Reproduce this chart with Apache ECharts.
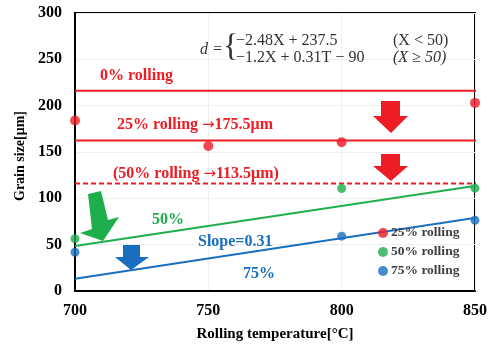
<!DOCTYPE html>
<html><head><meta charset="utf-8">
<script src="https://cdn.jsdelivr.net/npm/echarts@6/dist/echarts.min.js"></script>
<style>html,body{margin:0;padding:0;background:#fff}#c{width:490px;height:347px}</style>
</head><body><div id="c"></div>
<script>
// ---- data ----
const xTicks = [700, 750, 800, 850];
const yTicks = [0, 50, 100, 150, 200, 250, 300];
const temps25 = [700, 750, 800, 850];
const rolling25 = [184, 156.5, 160.5, 203];
const temps50 = [700, 800, 850];
const rolling50 = [56.4, 110.6, 111];
const temps75 = [700, 800, 850];
const rolling75 = [41.8, 59.2, 76.3];
const refX = [700, 853.5];
const level0 = [216, 216];
const level25 = [162.4, 162.4];
const level50 = [116, 116];
const fit50 = [48.6, 114.9];
const fit75 = [13.1, 80.3];
const seriesNames = ['25% rolling', '50% rolling', '75% rolling'];

const RED = '#ee1c25', GREEN = '#1fae4c', BLUE = '#1a6ec0';
const F = '"Liberation Serif", "Times New Roman", serif';
const zip = (a, b) => a.map((v, i) => [v, b[i]]);

function lineSeries(ys, color, type) {
  return { type: 'line', data: zip(refX, ys), symbol: 'none', clip: false, silent: true,
    lineStyle: { color: color, width: 2, type: type || 'solid' }, z: 3 };
}
const arrowRich = { a: { fontFamily: '"DejaVu Sans", sans-serif', fontSize: 15, fontWeight: 'normal', fill: RED, color: RED } };

const chart = echarts.init(document.getElementById('c'), null, { renderer: 'canvas' });
chart.setOption({
  animation: false,
  backgroundColor: '#fff',
  grid: { left: 75, right: 13, top: 13, bottom: 52, show: true, borderColor: '#000', borderWidth: 2 },
  xAxis: {
    type: 'value', min: xTicks[0], max: xTicks[xTicks.length - 1], interval: 50,
    axisLine: { lineStyle: { color: '#000', width: 2 } }, axisTick: { show: false },
    axisLabel: { color: '#000', fontFamily: F, fontWeight: 'bold', fontSize: 16, margin: 12 },
    splitLine: { lineStyle: { color: '#efefef', width: 1 } },
    name: 'Rolling temperature[°C]', nameLocation: 'middle', nameGap: 36,
    nameTextStyle: { color: '#000', fontFamily: F, fontWeight: 'bold', fontSize: 15 }
  },
  yAxis: {
    type: 'value', min: yTicks[0], max: yTicks[yTicks.length - 1], interval: 50,
    axisLine: { show: true, lineStyle: { color: '#000', width: 2 } }, axisTick: { show: false },
    axisLabel: { color: '#000', fontFamily: F, fontWeight: 'bold', fontSize: 16, margin: 13 },
    splitLine: { lineStyle: { color: '#efefef', width: 1 } },
    name: 'Grain size[μm]', nameLocation: 'middle', nameGap: 47,
    nameTextStyle: { color: '#000', fontFamily: F, fontWeight: 'bold', fontSize: 14, padding: [0, 8, 0, 0] }
  },
  legend: {
    data: seriesNames, orient: 'vertical', left: 373, top: 221, itemGap: 5,
    itemWidth: 10, itemHeight: 10, icon: 'circle',
    textStyle: { color: '#404040', fontFamily: F, fontWeight: 'bold', fontSize: 13.5, padding: [0, 0, 0, -2] }
  },
  series: [
    lineSeries(level0, RED), lineSeries(level25, RED), lineSeries(level50, RED, [5, 3]),
    lineSeries(fit50, GREEN), lineSeries(fit75, BLUE),
    { name: seriesNames[0], type: 'scatter', data: zip(temps25, rolling25), symbolSize: 10,
      itemStyle: { color: RED }, clip: false, z: 5 },
    { name: seriesNames[1], type: 'scatter', data: zip(temps50, rolling50), symbolSize: 9,
      itemStyle: { color: GREEN }, clip: false, z: 5 },
    { name: seriesNames[2], type: 'scatter', data: zip(temps75, rolling75), symbolSize: 9,
      itemStyle: { color: BLUE }, clip: false, z: 5 }
  ],
  graphic: [
    // formula
    { type: 'text', z: 10, style: { x: 200, y: 50, text: 'd =', font: 'italic 16px ' + F, fill: '#333', verticalAlign: 'middle' } },
    { type: 'text', z: 10, style: { x: 223, y: 48, text: '{', font: '32px ' + F, fill: '#333', verticalAlign: 'middle' } },
    { type: 'text', z: 10, style: { x: 236, y: 41, text: '−2.48X + 237.5', font: '16px ' + F, fill: '#333', verticalAlign: 'middle' } },
    { type: 'text', z: 10, style: { x: 236, y: 58, text: '−1.2X + 0.31T − 90', font: '16px ' + F, fill: '#333', verticalAlign: 'middle' } },
    { type: 'text', z: 10, style: { x: 393, y: 41, text: '(X < 50)', font: '16px ' + F, fill: '#333', verticalAlign: 'middle' } },
    { type: 'text', z: 10, style: { x: 393, y: 58, text: '(X ≥ 50)', font: 'italic 16px ' + F, fill: '#333', verticalAlign: 'middle' } },
    // labels
    { type: 'text', z: 10, style: { x: 100, y: 76, text: '0% rolling', font: 'bold 16px ' + F, fill: RED, verticalAlign: 'middle' } },
    { type: 'text', z: 10, style: { x: 117, y: 125, text: '25% rolling {a|→}175.5μm', font: 'bold 16px ' + F, fill: RED, verticalAlign: 'middle', rich: arrowRich } },
    { type: 'text', z: 10, style: { x: 113, y: 174, text: '(50% rolling {a|→}113.5μm)', font: 'bold 16px ' + F, fill: RED, verticalAlign: 'middle', rich: arrowRich } },
    { type: 'text', z: 10, style: { x: 152, y: 220, text: '50%', font: 'bold 16px ' + F, fill: GREEN, verticalAlign: 'middle' } },
    { type: 'text', z: 10, style: { x: 198, y: 242, text: 'Slope=0.31', font: 'bold 16px ' + F, fill: BLUE, verticalAlign: 'middle' } },
    { type: 'text', z: 10, style: { x: 243, y: 274, text: '75%', font: 'bold 16px ' + F, fill: BLUE, verticalAlign: 'middle' } },
    // arrows
    { type: 'polygon', z: 8, shape: { points: [[381,101],[400,101],[400,116],[408,116],[391,133],[373,116],[381,116]] }, style: { fill: RED } },
    { type: 'polygon', z: 8, shape: { points: [[381,154],[400,154],[400,166],[408,166],[391,181],[373,166],[381,166]] }, style: { fill: RED } },
    { type: 'polygon', z: 8, shape: { points: [[88,194],[101,191],[108,220],[119,217],[103,241],[80,233],[92,229]] }, style: { fill: GREEN } },
    { type: 'polygon', z: 8, shape: { points: [[123,245],[140,245],[140,257],[149,257],[131,270],[115,257],[123,257]] }, style: { fill: BLUE } }
  ]
});
</script></body></html>
